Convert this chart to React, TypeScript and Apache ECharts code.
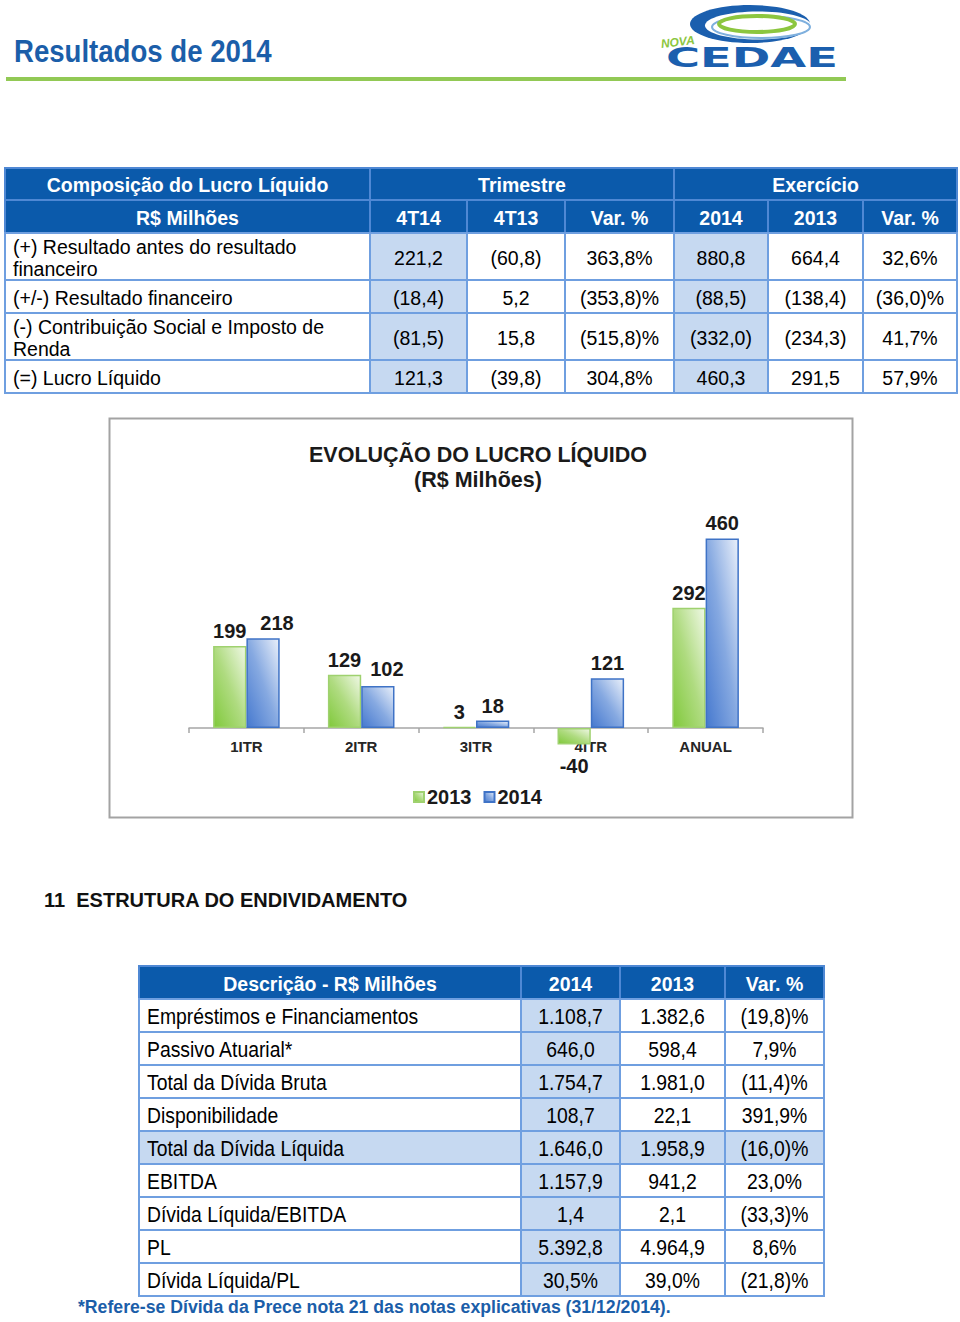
import React, { useEffect, useRef } from 'react';
import * as echarts from 'echarts';

// ---------- DATA ----------
const chartCategories = ['1ITR', '2ITR', '3ITR', '4ITR', 'ANUAL'];
const profit2013 = [199, 129, 3, -40, 292];
const profit2014 = [218, 102, 18, 121, 460];
const legendNames = ['2013', '2014'];

const pageTitle = 'Resultados de 2014';
const chartTitle = 'EVOLUÇÃO DO LUCRO LÍQUIDO';
const chartSubtitle = '(R$ Milhões)';
const sectionTitle = '11  ESTRUTURA DO ENDIVIDAMENTO';
const footnote = '*Refere-se Dívida da Prece nota 21 das notas explicativas (31/12/2014).';

const t1GroupHeaders = ['Composição do Lucro Líquido', 'Trimestre', 'Exercício'];
const t1ColumnHeaders = ['R$ Milhões', '4T14', '4T13', 'Var. %', '2014', '2013', 'Var. %'];
const t1RowLabels = [
  '(+) Resultado antes do resultado\nfinanceiro',
  '(+/-) Resultado financeiro',
  '(-) Contribuição Social e Imposto de\nRenda',
  '(=) Lucro Líquido',
];
const t1Values = [
  ['221,2', '(60,8)', '363,8%', '880,8', '664,4', '32,6%'],
  ['(18,4)', '5,2', '(353,8)%', '(88,5)', '(138,4)', '(36,0)%'],
  ['(81,5)', '15,8', '(515,8)%', '(332,0)', '(234,3)', '41,7%'],
  ['121,3', '(39,8)', '304,8%', '460,3', '291,5', '57,9%'],
];

const t2ColumnHeaders = ['Descrição - R$ Milhões', '2014', '2013', 'Var. %'];
const t2RowLabels = [
  'Empréstimos e Financiamentos',
  'Passivo Atuarial*',
  'Total da Dívida Bruta',
  'Disponibilidade',
  'Total da Dívida Líquida',
  'EBITDA',
  'Dívida Líquida/EBITDA',
  'PL',
  'Dívida Líquida/PL',
];
const t2Values = [
  ['1.108,7', '1.382,6', '(19,8)%'],
  ['646,0', '598,4', '7,9%'],
  ['1.754,7', '1.981,0', '(11,4)%'],
  ['108,7', '22,1', '391,9%'],
  ['1.646,0', '1.958,9', '(16,0)%'],
  ['1.157,9', '941,2', '23,0%'],
  ['1,4', '2,1', '(33,3)%'],
  ['5.392,8', '4.964,9', '8,6%'],
  ['30,5%', '39,0%', '(21,8)%'],
];

// ---------- STYLE / LAYOUT ----------
const FONT = '"Liberation Sans", Arial, sans-serif';
const BLUE_TEXT = '#1b5ea9';
const HEAD_BG = '#0b5aab';
const HEAD_LINE = '#4f88d4';
const BODY_LINE = '#6f9fe0';
const SHADE = '#c6d9f1';

const t1X = [5, 370, 467, 565, 674, 768, 863, 957];
const t1Y = [168, 200, 233, 280, 313, 360, 393];
const t2X = [139, 521, 620, 725, 824];
const t2Top = 966;
const t2RowH = 33;

function rect(x0: number, y0: number, x1: number, y1: number, fill: string, stroke: string, z = 1) {
  return {
    type: 'rect',
    z,
    shape: { x: x0, y: y0, width: x1 - x0, height: y1 - y0 },
    style: { fill, stroke, lineWidth: 2 },
  };
}

function txt(
  x: number,
  y: number,
  text: string,
  o: { size: number; bold?: boolean; color?: string; align?: string; scaleX?: number; italic?: boolean; family?: string; lineHeight?: number; rotation?: number }
) {
  return {
    type: 'text',
    z: 5,
    x,
    y,
    scaleX: o.scaleX ?? 1,
    rotation: o.rotation ?? 0,
    style: {
      text,
      x: 0,
      y: 0,
      fill: o.color ?? '#000',
      fontSize: o.size,
      fontWeight: o.bold ? 'bold' : 'normal',
      fontStyle: o.italic ? 'italic' : 'normal',
      fontFamily: o.family ?? FONT,
      lineHeight: o.lineHeight ?? Math.round(o.size * 1.15),
      align: o.align ?? 'left',
      textAlign: o.align ?? 'left',
      verticalAlign: 'middle',
      textVerticalAlign: 'middle',
    },
  };
}

function buildTable1(): any[] {
  const els: any[] = [];
  const spans = [
    [0, 1],
    [1, 4],
    [4, 7],
  ];
  spans.forEach(([a, b], i) => {
    els.push(rect(t1X[a], t1Y[0], t1X[b], t1Y[1], HEAD_BG, HEAD_LINE));
    els.push(txt((t1X[a] + t1X[b]) / 2, (t1Y[0] + t1Y[1]) / 2 + 1, t1GroupHeaders[i], { size: 19.5, bold: true, color: '#fff', align: 'center' }));
  });
  t1ColumnHeaders.forEach((h, c) => {
    els.push(rect(t1X[c], t1Y[1], t1X[c + 1], t1Y[2], HEAD_BG, HEAD_LINE));
    els.push(txt((t1X[c] + t1X[c + 1]) / 2, (t1Y[1] + t1Y[2]) / 2 + 1, h, { size: 19.5, bold: true, color: '#fff', align: 'center' }));
  });
  t1RowLabels.forEach((label, r) => {
    const y0 = t1Y[r + 2];
    const y1 = t1Y[r + 3];
    const cy = (y0 + y1) / 2 + 1;
    els.push(rect(t1X[0], y0, t1X[1], y1, '#fff', BODY_LINE));
    els.push(txt(13, cy, label, { size: 19.5, lineHeight: 22 }));
    t1Values[r].forEach((v, c) => {
      const col = c + 1;
      const shaded = col === 1 || col === 4;
      els.push(rect(t1X[col], y0, t1X[col + 1], y1, shaded ? SHADE : '#fff', BODY_LINE));
      els.push(txt((t1X[col] + t1X[col + 1]) / 2, cy, v, { size: 19.5, align: 'center' }));
    });
  });
  return els;
}

function buildTable2(): any[] {
  const els: any[] = [];
  t2ColumnHeaders.forEach((h, c) => {
    els.push(rect(t2X[c], t2Top, t2X[c + 1], t2Top + t2RowH, HEAD_BG, HEAD_LINE));
    els.push(txt((t2X[c] + t2X[c + 1]) / 2, t2Top + t2RowH / 2 + 1, h, { size: 19.5, bold: true, color: '#fff', align: 'center' }));
  });
  t2RowLabels.forEach((label, r) => {
    const y0 = t2Top + t2RowH * (r + 1);
    const y1 = y0 + t2RowH;
    const cy = (y0 + y1) / 2 + 1;
    const rowShaded = label === 'Total da Dívida Líquida';
    els.push(rect(t2X[0], y0, t2X[1], y1, rowShaded ? SHADE : '#fff', BODY_LINE));
    els.push(txt(147, cy, label, { size: 22, scaleX: 0.88 }));
    t2Values[r].forEach((v, c) => {
      const col = c + 1;
      const shaded = rowShaded || col === 1;
      els.push(rect(t2X[col], y0, t2X[col + 1], y1, shaded ? SHADE : '#fff', BODY_LINE));
      els.push(txt((t2X[col] + t2X[col + 1]) / 2, cy, v, { size: 22, scaleX: 0.88, align: 'center' }));
    });
  });
  return els;
}

function buildHeader(): any[] {
  return [
    txt(14, 51, pageTitle, { size: 31, bold: true, color: BLUE_TEXT, scaleX: 0.89 }),
    { type: 'rect', z: 2, shape: { x: 6, y: 77, width: 840, height: 4 }, style: { fill: '#92c955' } },
    // logo swoosh
    { type: 'ellipse', z: 2, shape: { cx: 750, cy: 24, rx: 60, ry: 19 }, style: { fill: '#1b5fae' } },
    { type: 'ellipse', z: 3, shape: { cx: 758, cy: 25.5, rx: 53, ry: 14 }, style: { fill: '#ffffff' } },
    { type: 'ellipse', z: 3, shape: { cx: 761, cy: 27, rx: 49, ry: 11 }, style: { fill: 'none', stroke: '#7fb0de', lineWidth: 2 } },
    { type: 'ellipse', z: 4, shape: { cx: 757, cy: 24, rx: 38, ry: 8 }, style: { fill: 'none', stroke: '#8cc63f', lineWidth: 4 } },
    txt(661, 44, 'NOVA', { size: 12, bold: true, italic: true, color: '#8cc63f', rotation: 0.12 }),
    txt(666, 58, 'CEDAE', { size: 27, bold: true, color: '#1b5fae', scaleX: 1.72, family: '"DejaVu Sans", sans-serif' }),
  ];
}

function buildChartFrame(): any[] {
  return [
    { type: 'rect', z: 0, shape: { x: 109.5, y: 418.5, width: 743, height: 399 }, style: { fill: 'none', stroke: '#a3a3a3', lineWidth: 2 } },
    txt(478, 455, chartTitle, { size: 21.5, bold: true, color: '#1a1a1a', align: 'center' }),
    txt(478, 480, chartSubtitle, { size: 21.5, bold: true, color: '#1a1a1a', align: 'center' }),
    txt(44, 900, sectionTitle, { size: 20, bold: true, color: '#111' }),
    txt(78, 1306, footnote, { size: 19, bold: true, color: BLUE_TEXT, scaleX: 0.93 }),
  ];
}

const green = new echarts.graphic.LinearGradient(0, 1, 1, 0, [
  { offset: 0, color: '#80c93b' },
  { offset: 0.5, color: '#afdb80' },
  { offset: 1, color: '#f0f8e6' },
]);
const blue = new echarts.graphic.LinearGradient(0, 1, 1, 0, [
  { offset: 0, color: '#4679cf' },
  { offset: 0.5, color: '#86a9e1' },
  { offset: 1, color: '#eaf0fa' },
]);

const labelBase = {
  show: true,
  position: 'top',
  distance: 5,
  fontSize: 20,
  fontWeight: 'bold',
  color: '#1a1a1a',
  fontFamily: FONT,
};

const option: any = {
  animation: false,
  backgroundColor: '#ffffff',
  textStyle: { fontFamily: FONT },
  grid: { left: 189, width: 574, top: 522, height: 206, containLabel: false },
  legend: {
    data: legendNames,
    left: 408,
    top: 782,
    icon: 'rect',
    itemWidth: 10,
    itemHeight: 10,
    itemGap: 12,
    textStyle: { fontSize: 20, fontWeight: 'bold', color: '#1a1a1a', fontFamily: FONT, padding: [0, 0, 0, -2] },
  },
  xAxis: {
    type: 'category',
    data: chartCategories,
    axisLine: { lineStyle: { color: '#a6a6a6', width: 1.5 } },
    axisTick: { show: true, length: 5, lineStyle: { color: '#a6a6a6', width: 1.5 } },
    axisLabel: { fontSize: 15, fontWeight: 'bold', color: '#262626', margin: 11, fontFamily: FONT },
    splitLine: { show: false },
  },
  yAxis: { type: 'value', min: 0, max: 500, show: false, splitLine: { show: false } },
  series: [
    {
      name: legendNames[0],
      type: 'bar',
      clip: false,
      barGap: '0%',
      barCategoryGap: '42%',
      itemStyle: { color: green, borderColor: '#9fd16f', borderWidth: 1.5 },
      label: labelBase,
      data: profit2013.map((v) => (v < 0 ? { value: v, label: { position: 'bottom', distance: 12 } } : v)),
    },
    {
      name: legendNames[1],
      type: 'bar',
      clip: false,
      barGap: '0%',
      barCategoryGap: '42%',
      itemStyle: { color: blue, borderColor: '#3f73c6', borderWidth: 1.5 },
      label: labelBase,
      data: profit2014.map((v, i) =>
        i === 0 ? { value: v, label: { offset: [14, 0] } } : i === 1 ? { value: v, label: { offset: [9, -2] } } : v
      ),
    },
  ],
  graphic: { elements: [...buildHeader(), ...buildTable1(), ...buildChartFrame(), ...buildTable2()] },
};

export default function App() {
  const ref = useRef<HTMLDivElement>(null);
  useEffect(() => {
    const chart = echarts.init(ref.current as HTMLDivElement, null, { renderer: 'svg' });
    chart.setOption(option);
    return () => chart.dispose();
  }, []);
  return (
    <div
      ref={ref}
      style={{ position: 'absolute', left: 0, top: 0, width: 960, height: 1322, background: '#ffffff' }}
    />
  );
}
